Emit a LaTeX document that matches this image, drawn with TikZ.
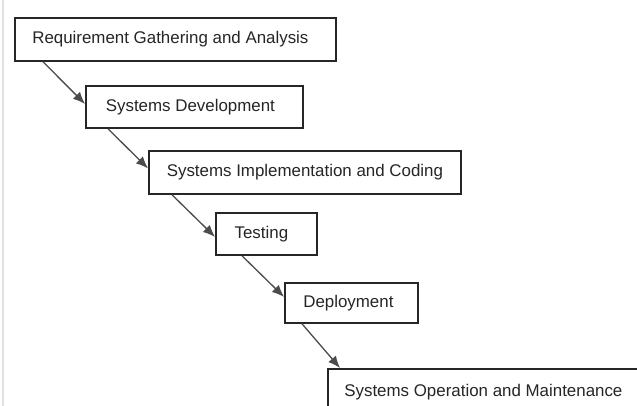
\documentclass[tikz,border=0pt]{standalone}
\usepackage{fontspec}
\setmainfont{Liberation Sans}
\usetikzlibrary{arrows.meta,calc}
\begin{document}
\begin{tikzpicture}[x=1pt,y=-1pt,
  stagebox/.style={draw=black!85, line width=1.8pt, fill=white, inner sep=0pt,
    anchor=north west, text=black!85, font=\fontsize{16.9}{20}\selectfont},
  flow/.style={draw=black!70, line width=1.3pt, -{Latex[length=12pt,width=10pt]}}]
\useasboundingbox (0,0) rectangle (637,406);
\clip (0,0) rectangle (637,406);
\fill[white] (0,0) rectangle (637,406);
\draw[black!12, line width=2pt] (3,0) -- (3,406);
\node[stagebox, minimum width=321pt, minimum height=43pt] (b1) at (14,17) {\hspace{-10pt}Requirement Gathering and Analysis};
\node[stagebox, minimum width=217pt, minimum height=42pt] (b2) at (85,85) {\hspace{-8pt}Systems Development};
\node[stagebox, minimum width=312pt, minimum height=43pt] (b3) at (148,150) {Systems Implementation and Coding};
\node[stagebox, minimum width=101pt, minimum height=42pt] (b4) at (215,212) {\hspace{-10pt}Testing};
\node[stagebox, minimum width=133pt, minimum height=40pt] (b5) at (284,282) {\hspace{-6pt}Deployment};
\node[stagebox, minimum width=320pt, minimum height=46pt] (b6) at (327,368) {\hspace{-9pt}Systems Operation and Maintenance};
\draw[flow] ([xshift=29pt]b1.south west) -- ([yshift=3pt]b2.west);
\draw[flow] ([xshift=23pt]b2.south west) -- ([yshift=4pt]b3.west);
\draw[flow] ([xshift=24pt]b3.south west) -- ([yshift=-3pt]b4.west);
\draw[flow] ([xshift=27pt]b4.south west) -- ([yshift=6pt]b5.west);
\draw[flow] ([xshift=18pt]b5.south west) -- ([xshift=13pt]b6.north west);
\end{tikzpicture}
\end{document}
